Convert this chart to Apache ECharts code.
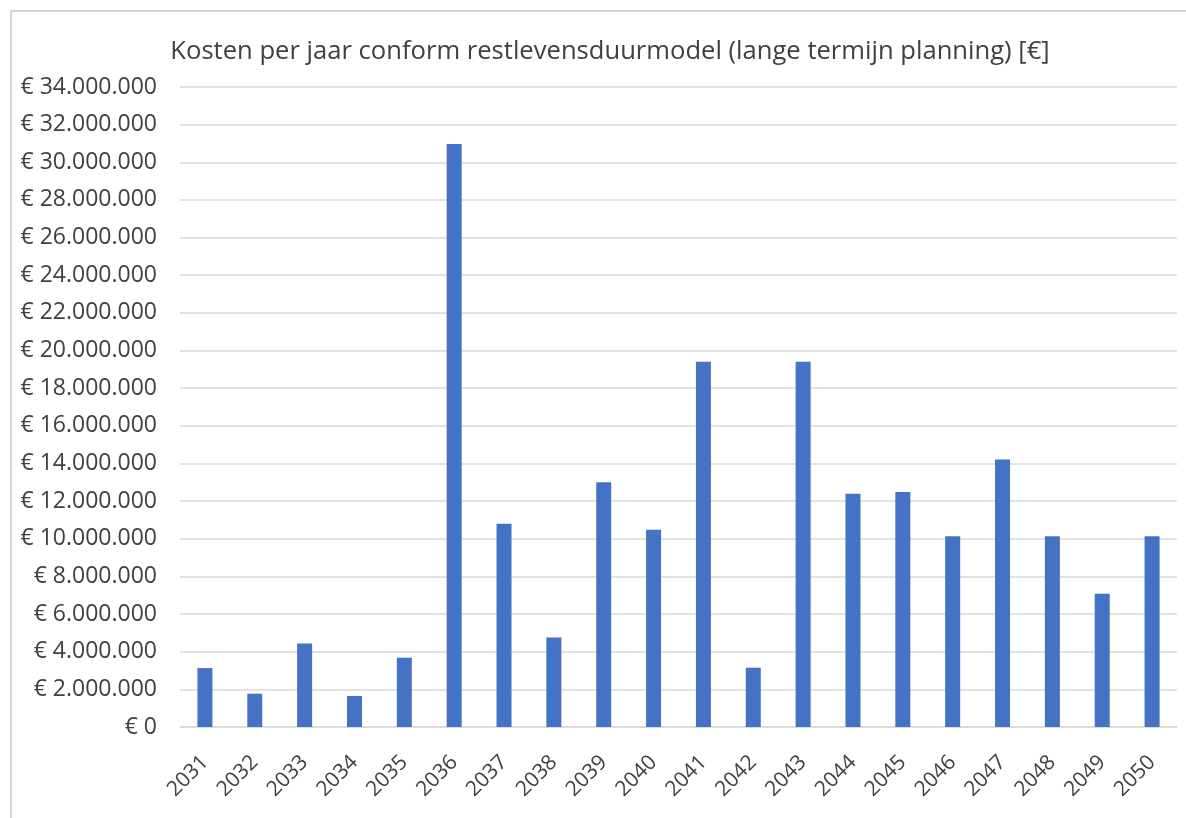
<!DOCTYPE html>
<html>
<head>
<meta charset="utf-8">
<script src="https://cdn.jsdelivr.net/npm/echarts@6/dist/echarts.min.js"></script>
<style>
  html, body { margin: 0; padding: 0; background: #fff; }
  #frame { position: absolute; left: 10px; top: 10px; width: 1186px; height: 818px; border-left: 2px solid #d4d4d4; border-top: 2px solid #d4d4d4; box-sizing: border-box; }
  #chart { position: absolute; left: 0; top: 0; width: 1186px; height: 818px; }
</style>
</head>
<body>
<div id="frame"></div>
<div id="chart"></div>
<script>
const years = ['2031', '2032', '2033', '2034', '2035', '2036', '2037', '2038', '2039', '2040',
  '2041', '2042', '2043', '2044', '2045', '2046', '2047', '2048', '2049', '2050']
const costs = [3130000, 1770000, 4430000, 1650000, 3680000, 30970000, 10800000, 4760000, 13000000, 10480000,
  19410000, 3150000, 19410000, 12390000, 12490000, 10140000, 14210000, 10140000, 7080000, 10140000]
const yMax = 34000000
const yStep = 2000000

const fmtEuro = (v) => {
  if (v === 0) return '€ 0'
  return '€ ' + String(v).replace(/\B(?=(\d{3})+(?!\d))/g, '.')
}

const chart = echarts.init(document.getElementById('chart'))

const options = {
  animation: false,
  title: {
    text: 'Kosten per jaar conform restlevensduurmodel (lange termijn planning) [€]',
    left: 605,
    textAlign: 'center',
    top: 34,
    textStyle: {
      fontFamily: 'Open Sans, sans-serif',
      fontWeight: 'normal',
      fontSize: 25.6,
      color: '#404040'
    }
  },
  grid: {
    left: 180,
    right: 9,
    top: 87,
    bottom: 91,
    containLabel: false
  },
  xAxis: {
    type: 'category',
    data: years,
    axisLine: { lineStyle: { color: '#d9d9d9', width: 1.5 } },
    axisTick: { show: false },
    axisLabel: {
      interval: 0,
      rotate: 45,
      margin: 32,
      color: '#404040',
      fontSize: 21,
      fontFamily: 'Open Sans, sans-serif'
    }
  },
  yAxis: {
    type: 'value',
    min: 0,
    max: yMax,
    interval: yStep,
    axisLine: { show: false },
    axisTick: { show: false },
    splitLine: { lineStyle: { color: '#d9d9d9', width: 1.5 } },
    axisLabel: {
      margin: 23,
      color: '#404040',
      fontSize: 23,
      fontFamily: 'Open Sans, sans-serif',
      formatter: fmtEuro
    }
  },
  series: [
    {
      name: 'Kosten',
      type: 'bar',
      data: costs,
      barWidth: 15,
      itemStyle: {
        color: '#4472c4'
      }
    }
  ]
}

chart.setOption(options)
</script>
</body>
</html>
